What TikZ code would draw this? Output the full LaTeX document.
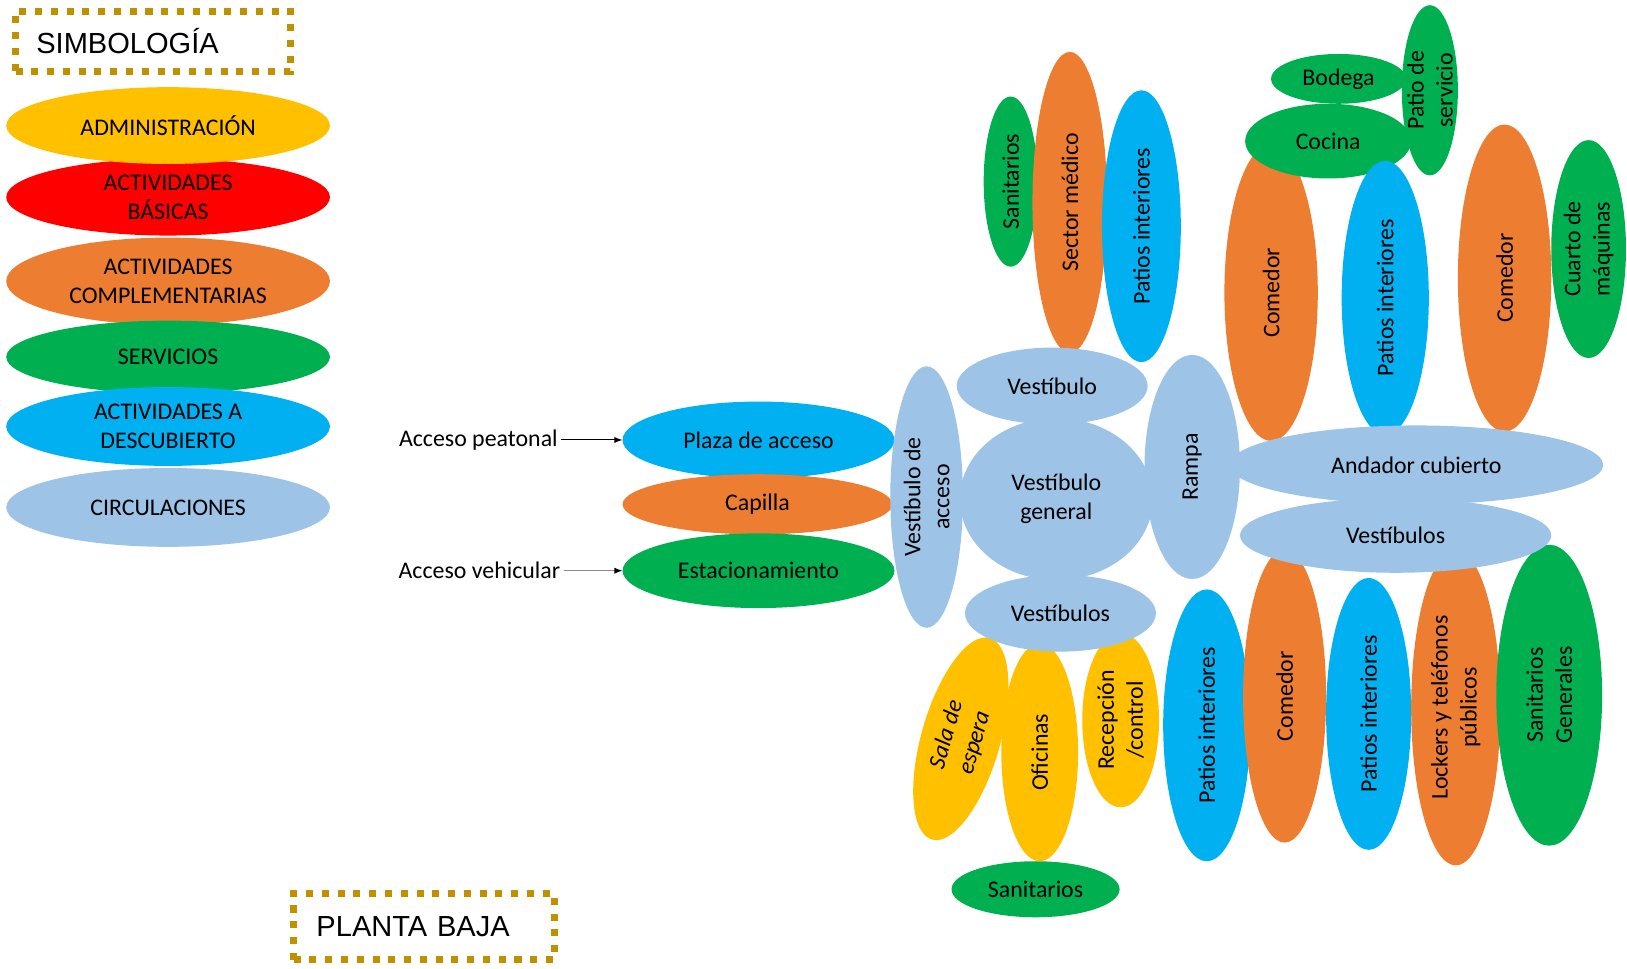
\documentclass[tikz,border=0pt]{standalone}
\usepackage{fontspec}
\setmainfont{Carlito}
\newfontfamily\titlefont{Liberation Sans}
\usepackage{xcolor}
\usepackage{tikz}
\usetikzlibrary{arrows.meta, shapes.geometric}
\definecolor{ZnYellow}{HTML}{FFC000}
\definecolor{ZnRed}{HTML}{FF0000}
\definecolor{ZnOrange}{HTML}{ED7D31}
\definecolor{ZnGreen}{HTML}{00B050}
\definecolor{ZnBlue}{HTML}{00B0F0}
\definecolor{ZnCirc}{HTML}{9DC3E6}
\definecolor{ZnGold}{HTML}{BF9000}

\begin{document}
\begin{tikzpicture}[
  x=0.5pt, y=-0.5pt,
  font=\fontsize{11.5}{14}\selectfont,
  zone/.style={ellipse, inner sep=0pt, outer sep=0pt, draw=none},
  admin/.style={zone, fill=ZnYellow},
  basic/.style={zone, fill=ZnRed},
  compl/.style={zone, fill=ZnOrange},
  serv/.style={zone, fill=ZnGreen},
  open/.style={zone, fill=ZnBlue},
  circ/.style={zone, fill=ZnCirc},
  lbl/.style={align=center, inner sep=0pt, text=black},
  vlbl/.style={lbl, rotate=90},
  legbox/.style={rectangle, draw=ZnGold, line width=3.4pt, dash pattern=on 3.4pt off 4.2pt,
                 align=left, anchor=west, outer sep=0pt, font=\titlefont\fontsize{14}{17}\selectfont},
  arr/.style={-{Latex[length=4pt,width=3pt]}, line width=0.5pt},
]
\useasboundingbox (0,0) rectangle (1568,933);

% simbologia
\node[legbox, minimum width=132.5pt, minimum height=29pt, text width=112.5pt, inner xsep=10pt] (simb) at (15,40) {SIMBOLOGÍA};
\node[basic, minimum width=156pt, minimum height=37pt, label={[lbl]center:{ACTIVIDADES\\BÁSICAS}}] (legbasic) at (162,190) {};
\node[admin, minimum width=156pt, minimum height=37pt, label={[lbl]center:ADMINISTRACIÓN}] (legadmin) at (162,121) {};
\node[compl, minimum width=156pt, minimum height=42pt, label={[lbl]center:{ACTIVIDADES\\COMPLEMENTARIAS}}] (legcompl) at (162,271) {};
\node[serv, minimum width=156pt, minimum height=35pt, label={[lbl]center:SERVICIOS}] (legserv) at (162,344) {};
\node[open, minimum width=156pt, minimum height=38pt, label={[lbl]center:{ACTIVIDADES A\\DESCUBIERTO}}] (legopen) at (162,411) {};
\node[circ, minimum width=156pt, minimum height=38pt, label={[lbl]center:CIRCULACIONES}] (legcirc) at (162,489) {};

% acceso
\node[open, minimum width=131pt, minimum height=37pt, label={[lbl]center:Plaza de acceso}] (plaza) at (731,424) {};
\node[compl, minimum width=130pt, minimum height=29pt, label={[lbl]center:Capilla}] (capilla) at (730,486) {};
\node[serv, minimum width=131pt, minimum height=36pt, label={[lbl]center:Estacionamiento}] (estac) at (731,550) {};
\node[lbl, inner xsep=1.5pt] (accpeat) at (461,424) {Acceso peatonal};
\node[lbl, inner xsep=1.5pt] (accveh) at (462,550) {Acceso vehicular};
\draw[arr] (accpeat) -- (plaza);
\draw[arr, draw=black!45, -{Latex[length=4pt,width=3pt,color=black]}] (accveh) -- (estac);

% bloque norte
\node[serv, minimum width=26pt, minimum height=82pt, label={[vlbl]center:Sanitarios}] (sanitn) at (974,175) {};
\node[compl, minimum width=36pt, minimum height=145pt, label={[vlbl]center:Sector médico}] (sector) at (1031,195) {};
\node[open, minimum width=38pt, minimum height=131pt, label={[vlbl]center:Patios interiores}] (patiosn) at (1100,218) {};
\node[compl, minimum width=45pt, minimum height=143pt, label={[vlbl]center:Comedor}] (comedora) at (1225,282) {};
\node[serv, minimum width=65pt, minimum height=24pt, label={[lbl]center:Bodega}] (bodega) at (1290,76) {};
\node[serv, minimum width=27pt, minimum height=82pt, label={[vlbl]center:{Patio de\\servicio}}] (patioserv) at (1378,87) {};
\node[serv, minimum width=80pt, minimum height=36pt, label={[lbl]center:Cocina}] (cocina) at (1280,136) {};
\node[open, minimum width=42pt, minimum height=132pt, label={[vlbl]center:Patios interiores}] (patiosc) at (1335,287) {};
\node[compl, minimum width=45pt, minimum height=148pt, label={[vlbl]center:Comedor}] (comedorb) at (1450,268) {};
\node[serv, minimum width=36pt, minimum height=105pt, label={[vlbl]center:{Cuarto de\\máquinas}}] (maquinas) at (1531,240) {};

% bloque sur
\node[admin, rotate=74, minimum width=101pt, minimum height=38pt, label={[lbl, rotate=74, font=\fontsize{11.5}{14}\selectfont\itshape]center:{Sala de\\espera}}] (espera) at (926,712) {};
\node[admin, minimum width=37pt, minimum height=105pt, label={[vlbl]center:Oficinas}] (oficinas) at (1002,725) {};
\node[admin, minimum width=37pt, minimum height=84pt, label={[vlbl]center:{Recepción\\/control}}] (recep) at (1080,694) {};
\node[serv, minimum width=81pt, minimum height=27pt, label={[lbl]center:Sanitarios}] (sanits) at (998,857) {};
\node[open, minimum width=42pt, minimum height=131pt, label={[vlbl]center:Patios interiores}] (patiossa) at (1163,699) {};
\node[compl, minimum width=40pt, minimum height=141pt, label={[vlbl]center:Comedor}] (comedorc) at (1238,671) {};
\node[open, minimum width=41pt, minimum height=131pt, label={[vlbl]center:Patios interiores}] (patiossb) at (1319,688) {};
\node[compl, minimum width=43pt, minimum height=152pt, label={[vlbl]center:{Lockers y teléfonos\\públicos}}] (lockers) at (1403,682) {};
\node[serv, minimum width=51pt, minimum height=145pt, label={[vlbl]center:{Sanitarios\\Generales}}] (sanitgen) at (1493,670) {};

% circulaciones
\node[circ, minimum width=180pt, minimum height=38pt, label={[lbl]center:Andador cubierto}] (andador) at (1365,448) {};
\node[circ, minimum width=150pt, minimum height=36pt, label={[lbl]center:Vestíbulos}] (vestibe) at (1345,516) {};
\node[circ, minimum width=46pt, minimum height=108pt, label={[vlbl]center:Rampa}] (rampa) at (1149,450) {};
\node[circ, minimum width=35pt, minimum height=126pt, label={[vlbl]center:{Vestíbulo de\\acceso}}] (vestacc) at (893,479) {};
\node[circ, minimum width=92pt, minimum height=37pt, label={[lbl]center:Vestíbulo}] (vestn) at (1014,372) {};
\node[circ, minimum width=93pt, minimum height=78pt, label={[lbl]center:{Vestíbulo\\general}}] (vestgen) at (1018,481) {};
\node[circ, minimum width=92pt, minimum height=37pt, label={[lbl]center:Vestíbulos}] (vestibs) at (1022,591) {};

\node[legbox, minimum width=125.5pt, minimum height=32pt, text width=103.5pt, inner xsep=11pt] (planta) at (283,893) {PLANTA BAJA};
\end{tikzpicture}
\end{document}
